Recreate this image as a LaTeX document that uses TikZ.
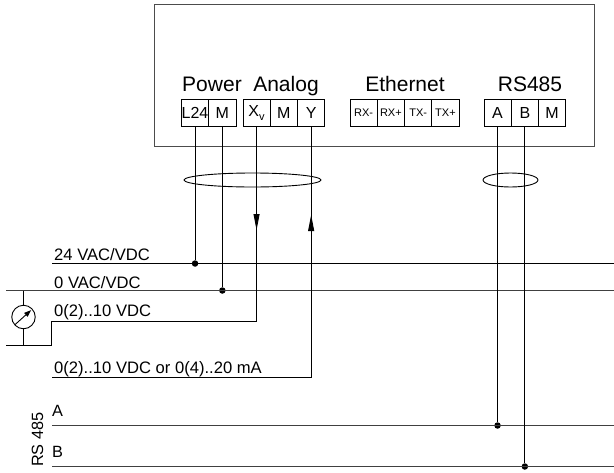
\documentclass[tikz,border=0pt]{standalone}
\usepackage{fontspec}
\setmainfont{Liberation Sans}
\usetikzlibrary{arrows.meta,shapes.geometric}
\tikzset{
  term/.style={draw=black,line width=0.8pt,minimum height=27.5pt,inner sep=0pt,anchor=west,font=\fontsize{16}{16}\selectfont},
  termw/.style={term,minimum width=27.3pt},
  smallt/.style={term,minimum width=27.3pt,font=\fontsize{11}{11}\selectfont},
  head/.style={inner sep=0pt,anchor=base,font=\fontsize{21}{21}\selectfont},
  lab/.style={inner sep=0pt,anchor=base west,font=\fontsize{16.6}{17}\selectfont},
  labbig/.style={inner sep=0pt,anchor=base west,font=\fontsize{16.3}{17}\selectfont},
  wire/.style={line width=0.9pt,black},
  bus/.style={line width=0.9pt,black!75},
  dot/.style={circle,fill=black,inner sep=0pt,minimum size=6.5pt},
  cableloop/.style={draw=black,line width=0.9pt,ellipse,inner sep=0pt},
  flow/.style={-{Triangle[length=16pt,width=6pt]},line width=0.9pt,black},
}
\begin{document}
\begin{tikzpicture}[x=1pt,y=-1pt]
\useasboundingbox (0,0) rectangle (614,472);
\fill[white] (0,0) rectangle (614,472);
\draw[line width=0.9pt,black!70] (154,4) rectangle (594.5,146);
% headers
\node[head] (hp) at (212,91.7) {Power};
\node[head] (ha) at (286,91.7) {Analog};
\node[head] (he) at (405,91.7) {Ethernet};
\node[head] (hr) at (530,91.7) {RS485};
% terminals
\node[termw] (L) at (181,113) {L24};
\node[termw] (M1) at (208.3,113) {M};
\node[termw] (X) at (242.5,113) {X\raisebox{-4pt}{\fontsize{11}{11}\selectfont v}};
\node[termw] (M2) at (269.8,113) {M};
\node[termw] (Y) at (297.1,113) {Y};
\node[smallt] (R1) at (349.5,113) {RX-};
\node[smallt] (R2) at (376.8,113) {RX+};
\node[smallt] (T1) at (404.1,113) {TX-};
\node[smallt] (T2) at (431.4,113) {TX+};
\node[termw] (A) at (483.5,113) {A};
\node[termw] (B) at (510.8,113) {B};
\node[termw] (M3) at (538.1,113) {M};
% coordinates on buses
\coordinate (b24l) at (52,263.5); \coordinate (b24r) at (614,263.5);
\coordinate (b0l) at (6,290.5); \coordinate (b0r) at (614,290.5);
\coordinate (bAl) at (52,425.5); \coordinate (bAr) at (614,425.5);
\coordinate (bBl) at (52,466.5); \coordinate (bBr) at (614,466.5);
\coordinate (vc) at (51,321);
\coordinate (vd) at (51,345);
\coordinate (ve) at (6,345);
\coordinate (yl) at (52,377.5);
\node[dot] (d24) at (L.south |- b24l) {};
\node[dot] (d0) at (M1.south |- b0l) {};
\node[dot] (dA) at (A.south |- bAl) {};
\node[dot] (dB) at (B.south |- bBl) {};
% buses
\draw[wire] (b24l) -- (b24r);
\draw[bus] (b0l) -- (b0r);
\draw[bus] (bAl) -- (bAr);
\draw[bus] (bBl) -- (bBr);
% wires
\draw[wire] (L.south) -- (d24);
\draw[wire] (M1.south) -- (d0);
\draw[wire] (A.south) -- (dA);
\draw[wire] (B.south) -- (dB);
\draw[wire] (X.south) |- (vc) -- (vd) -- (ve);
\draw[wire] (Y.south) |- (yl);
% flow arrows
\coordinate (xa) at (X.south |- 0,214);
\coordinate (xb) at (X.south |- 0,230);
\coordinate (ya) at (Y.south |- 0,231);
\coordinate (yb) at (Y.south |- 0,215);
\draw[flow] (xa) -- (xb);
\draw[flow] (ya) -- (yb);
% cable loops
\node[cableloop,minimum width=137pt,minimum height=14pt] (e1) at (252.5,180) {};
\node[cableloop,minimum width=55pt,minimum height=14pt] (e2) at (510.5,180) {};
% meter
\node[draw=black,line width=0.9pt,circle,minimum size=23.5pt,inner sep=0pt] (g) at (23.5,317) {};
\coordinate (gt) at (g.north |- b0l);
\coordinate (gb) at (g.south |- ve);
\draw[wire] (gt) -- (g.north);
\draw[wire] (g.south) -- (gb);
\draw[line width=0.9pt,-{Triangle[length=7pt,width=5pt]},shorten >=2pt,shorten <=1pt] (g.222) -- (g.42);
% labels
\node[lab] (l1) at (54,260.7) {24 VAC/VDC};
\node[lab] (l2) at (54,288) {0 VAC/VDC};
\node[lab] (l3) at (54,316) {0(2)..10 VDC};
\node[lab] (l4) at (54,373.5) {0(2)..10 VDC or 0(4)..20 mA};
\node[labbig] (lA) at (52,416.7) {A};
\node[labbig] (lB) at (52,457.7) {B};
\node[labbig,rotate=90] (lR) at (43,467) {RS 485};
\end{tikzpicture}
\end{document}
